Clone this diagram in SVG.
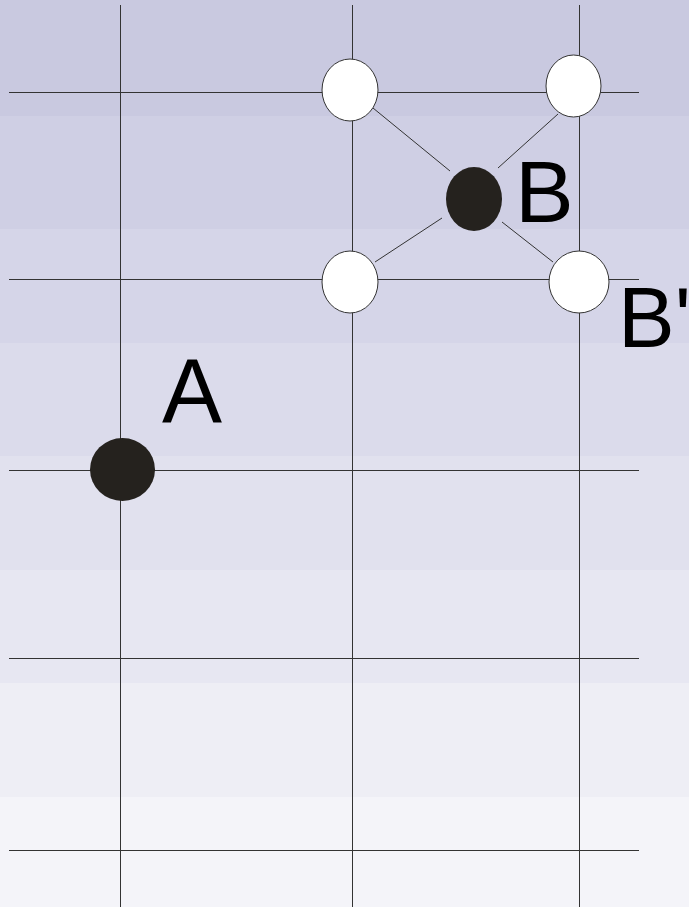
<svg xmlns="http://www.w3.org/2000/svg" width="689" height="907" viewBox="0 0 689 907">
<style>
.g{stroke:#333;stroke-width:1;fill:none}
.c{stroke:#333;stroke-width:1;fill:none}
.w{fill:#fff;stroke:#333;stroke-width:1}
.b{fill:#25221e}
.t{font-family:"Liberation Sans",Arial,sans-serif;font-size:88px;fill:#000}
</style>
<g id="background">
<rect x="0" y="0" width="689" height="116" fill="#c9c9e0"/>
<rect x="0" y="116" width="689" height="113" fill="#cfcfe4"/>
<rect x="0" y="229" width="689" height="114" fill="#d5d5e8"/>
<rect x="0" y="343" width="689" height="113" fill="#dbdbeb"/>
<rect x="0" y="456" width="689" height="114" fill="#e1e1ee"/>
<rect x="0" y="570" width="689" height="113" fill="#e7e7f2"/>
<rect x="0" y="683" width="689" height="114" fill="#eeeef5"/>
<rect x="0" y="797" width="689" height="110" fill="#f4f4f9"/>
</g>
<g id="grid">
<line class="g" x1="9" y1="92.5" x2="639" y2="92.5"/>
<line class="g" x1="9" y1="279.5" x2="639" y2="279.5"/>
<line class="g" x1="9" y1="470.5" x2="639" y2="470.5"/>
<line class="g" x1="9" y1="658.5" x2="639" y2="658.5"/>
<line class="g" x1="9" y1="850.5" x2="639" y2="850.5"/>
<line class="g" x1="120.5" y1="5" x2="120.5" y2="907"/>
<line class="g" x1="352.5" y1="5" x2="352.5" y2="907"/>
<line class="g" x1="579.5" y1="5" x2="579.5" y2="907"/>
</g>
<g id="connectors">
<line class="c" x1="373" y1="108" x2="450" y2="171"/>
<line class="c" x1="498" y1="168" x2="558" y2="114"/>
<line class="c" x1="442" y1="218" x2="375" y2="262"/>
<line class="c" x1="502" y1="222" x2="553" y2="262"/>
</g>
<g id="node-tl"><ellipse class="w" cx="350" cy="90" rx="28" ry="31"/></g>
<g id="node-tr"><ellipse class="w" cx="573.5" cy="86" rx="27.5" ry="31"/></g>
<g id="node-bl"><ellipse class="w" cx="350" cy="282" rx="28" ry="31"/></g>
<g id="node-br"><ellipse class="w" cx="579" cy="282" rx="30" ry="31"/></g>
<g id="node-B"><ellipse class="b" cx="474" cy="199" rx="28" ry="32"/><text class="t" x="515" y="222">B</text></g>
<g id="node-A"><ellipse class="b" cx="122.5" cy="469.5" rx="32.5" ry="31.5"/><text class="t" x="162" y="422" style="font-size:90px">A</text></g>
<g id="label-B2"><text class="t" x="618" y="347" style="font-size:85px">B'</text></g>
</svg>
